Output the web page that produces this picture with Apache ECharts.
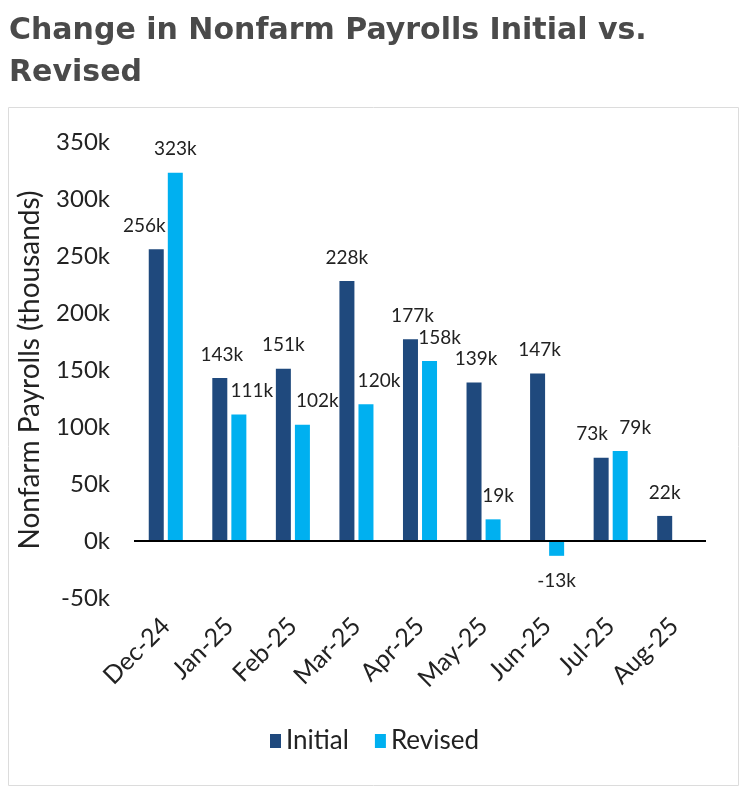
<!DOCTYPE html>
<html>
<head>
<meta charset="utf-8">
<script src="https://cdn.jsdelivr.net/npm/echarts@6/dist/echarts.min.js"></script>
<style>
    html, body { margin: 0; padding: 0; background: #fff; }
    #payrollChart { width: 749px; height: 792px; }
</style>
</head>
<body>
<div id="payrollChart"></div>
<script>
    // data (thousands)
    var months = ["Dec-24", "Jan-25", "Feb-25", "Mar-25", "Apr-25", "May-25", "Jun-25", "Jul-25", "Aug-25"];
    var initialVals = [256, 143, 151, 228, 177, 139, 147, 73, 22];
    var revisedVals = [323, 111, 102, 120, 158, 19, -13, 79, null];
    var yTicks = [-50, 0, 50, 100, 150, 200, 250, 300, 350];

    // label nudges (px) so the value labels sit like the original
    var initialNudge = [-12, 2, 0, 0, 2, 2, 2, -9, 0];
    var revisedNudge = [0, 13, 15, 13, 10, 5, 0, 15, 0];

    var FONT = 'Lato, "DejaVu Sans", sans-serif';
    var myChart = echarts.init(document.getElementById('payrollChart'));

    function toItems(vals, nudge) {
        return vals.map(function (v, i) {
            if (v === null) return null;
            var lbl = { offset: [nudge[i], 0] };
            if (v < 0) { lbl.position = 'bottom'; lbl.distance = 16; }
            return { value: v, label: lbl };
        });
    }

    var labelStyle = {
        show: true,
        position: 'top',
        distance: 14,
        fontFamily: FONT,
        fontSize: 19,
        color: '#222',
        formatter: function (p) { return p.value + 'k'; }
    };

    myChart.setOption({
        animation: false,
        title: {
            text: 'Change in Nonfarm Payrolls Initial vs.\nRevised',
            left: 4,
            top: 5,
            textStyle: {
                fontFamily: '"DejaVu Sans", sans-serif',
                fontSize: 30,
                fontWeight: 'bold',
                color: '#4a4a4a',
                lineHeight: 42
            }
        },
        graphic: [{ // outer chart frame
            type: 'rect',
            shape: { x: 8.5, y: 107.5, width: 730, height: 678 },
            style: { fill: 'none', stroke: '#dcdcdc', lineWidth: 1 },
            silent: true
        }],
        legend: {
            bottom: 33,
            left: 'center',
            itemWidth: 11,
            itemHeight: 14,
            itemGap: 26,
            icon: 'rect',
            textStyle: { fontFamily: FONT, fontSize: 26, color: '#222' },
            data: ['Initial', 'Revised']
        },
        grid: { left: 134, right: 43, top: 142, bottom: 194, containLabel: false },
        xAxis: {
            type: 'category',
            data: months,
            axisLine: { show: false, onZero: false },
            axisTick: { show: false },
            axisLabel: {
                rotate: 45,
                margin: 24,
                fontFamily: FONT,
                fontSize: 25,
                color: '#222',
                interval: 0
            }
        },
        yAxis: {
            type: 'value',
            min: yTicks[0],
            max: yTicks[yTicks.length - 1],
            interval: 50,
            name: 'Nonfarm Payrolls (thousands)',
            nameLocation: 'middle',
            nameRotate: 90,
            nameGap: 90,
            nameTextStyle: { fontFamily: FONT, fontSize: 28, color: '#222' },
            axisLine: { show: false },
            axisTick: { show: false },
            splitLine: { show: false },
            axisLabel: {
                margin: 24,
                fontFamily: FONT,
                fontSize: 24,
                color: '#222',
                formatter: function (v) { return v + 'k'; }
            }
        },
        series: [
            {
                name: 'Initial',
                type: 'bar',
                barWidth: 15,
                barGap: '27%',
                itemStyle: { color: '#1f497d' },
                label: labelStyle,
                data: toItems(initialVals, initialNudge),
                markLine: { // zero line
                    silent: true,
                    symbol: 'none',
                    label: { show: false },
                    lineStyle: { color: '#000', width: 2, type: 'solid' },
                    data: [{ yAxis: 0 }]
                }
            },
            {
                name: 'Revised',
                type: 'bar',
                barWidth: 15,
                itemStyle: { color: '#00b0f0' },
                label: labelStyle,
                data: toItems(revisedVals, revisedNudge)
            }
        ]
    });
</script>
</body>
</html>
